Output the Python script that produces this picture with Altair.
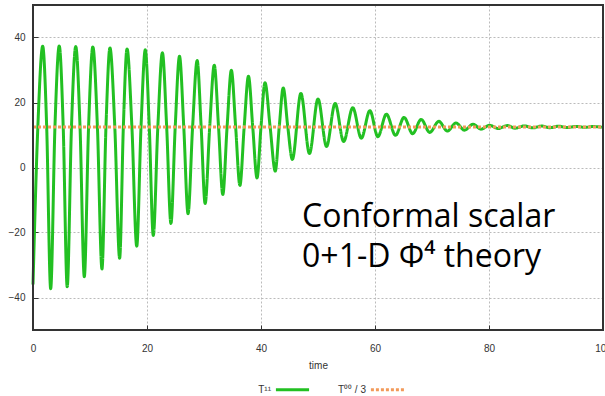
import altair as alt
import pandas as pd

# ---- data ----
peak_t = [1.7, 4.6, 7.5, 10.5, 13.5, 16.5, 19.7, 22.7, 25.7, 28.8, 31.8, 34.8, 37.8,
          40.7, 43.9, 47.0, 50.0, 53.0, 56.1, 59.1, 62.0, 65.1, 68.1, 71.2, 74.2,
          77.2, 80.1, 83.2, 86.2, 89.2, 92.2, 95.3, 98.3]
peak_v = [37.3, 37.4, 37.2, 37.1, 36.8, 36.5, 36.2, 35.3, 34.2, 32.9, 31.5, 29.9, 28.1,
          26.1, 24.5, 22.8, 21.1, 19.7, 18.4, 17.5, 16.4, 15.4, 14.8, 14.2, 13.7,
          13.3, 13.0, 12.9, 12.8, 12.75, 12.7, 12.65, 12.6]
trough_t = [0.0, 3.1, 6.0, 9.0, 12.1, 15.2, 18.2, 21.1, 24.2, 27.2, 30.2, 33.3, 36.3,
            39.3, 42.5, 45.5, 48.5, 51.5, 54.5, 57.6, 60.5, 63.6, 66.6, 69.6, 72.7,
            75.7, 78.6, 81.6, 84.6, 87.7, 90.7, 93.7, 96.8, 99.8]
trough_v = [-36.0, -37.3, -36.7, -33.6, -31.2, -27.9, -24.2, -20.9, -17.2, -14.2, -11.1,
            -8.3, -5.5, -3.2, -1.1, 2.5, 4.3, 6.5, 8.0, 9.0, 9.5, 9.9, 10.4, 10.8, 11.2,
            11.5, 11.8, 12.0, 12.1, 12.2, 12.25, 12.3, 12.35, 12.4]
# times where the green curve crosses the orange level
cross_t = [0.85, 2.4, 3.85, 5.3, 6.75, 8.25, 9.75, 11.3, 12.8, 14.35, 15.85, 17.35,
           18.95, 20.4, 21.9, 23.45, 24.95, 26.45, 28.0, 29.5, 31.0, 32.55, 34.05,
           35.55, 37.05, 38.55, 40.0, 41.6, 43.2, 44.7]
cross_v = [12.5] * len(cross_t)
level_t = [0, 100]
level_v = [12.5, 12.5]
x_ticks = [0, 20, 40, 60, 80, 100]
y_ticks = [-40, -20, 0, 20, 40]
x_range = [0, 100]
y_range = [-50, 50]
series = ["T¹¹", "T⁰⁰ / 3"]
note = ["Conformal scalar", "0+1-D Φ⁴ theory"]
note_x = 47.2
note_y = -18.2

GREEN = "#22c022"
ORANGE = "#f29a5a"
FRAME = "#333333"

pts = sorted(zip(peak_t + trough_t + cross_t, peak_v + trough_v + cross_v))
green_df = pd.DataFrame({"t": [p[0] for p in pts], "v": [p[1] for p in pts], "s": series[0]})
orange_df = pd.DataFrame({"t": level_t, "v": level_v, "s": series[1]})

legend = alt.Legend(
    title=None, orient="none", legendX=241, legendY=366, direction="horizontal",
    symbolType="stroke", symbolSize=1100, symbolStrokeWidth=3,
    labelFont="Liberation Sans", labelFontSize=10, labelColor="#333",
    labelAlign="right", labelOffset={"expr": "-40"}, columnPadding=21,
)

grid_kw = dict(grid=True, gridColor="#bbbbbb", gridDash=[2, 2], gridWidth=1,
               domain=False, ticks=True, tickSize={"expr": "-5"}, tickColor=FRAME,
               tickWidth=1, labelFont="Liberation Sans", labelFontSize=10,
               labelColor="#333", labelFlush=False)

x_enc = alt.X("t:Q", scale=alt.Scale(domain=x_range, nice=False, zero=False),
              axis=alt.Axis(values=x_ticks, title="time", labelPadding=18, titlePadding=7,
                            titleFont="Liberation Sans", titleFontSize=10,
                            titleFontWeight="normal", titleColor="#333", **grid_kw))
y_enc = alt.Y("v:Q", scale=alt.Scale(domain=y_range, nice=False),
              axis=alt.Axis(values=y_ticks, title=None, labelPadding=13, **grid_kw))
color = alt.Color("s:N", scale=alt.Scale(domain=series, range=[GREEN, ORANGE]), legend=legend)
dash = alt.StrokeDash("s:N", scale=alt.Scale(domain=series, range=[[1, 0], [3, 2]]), legend=legend)

green = alt.Chart(green_df).mark_line(interpolate="monotone", strokeWidth=3).encode(
    x=x_enc, y=y_enc, color=color, strokeDash=dash)
orange = alt.Chart(orange_df).mark_line(strokeWidth=3).encode(
    x="t:Q", y="v:Q", color=color, strokeDash=dash)
frame = alt.Chart().mark_rect(fillOpacity=0, stroke=FRAME, strokeWidth=2).encode(
    x=alt.X(datum=x_range[0]), x2=alt.X2(datum=x_range[1]),
    y=alt.Y(datum=y_range[0]), y2=alt.Y2(datum=y_range[1]))
text = alt.Chart().mark_text(
    text=note, font="Open Sans", fontSize=32, align="left", baseline="alphabetic",
    lineHeight=40, color="black").encode(x=alt.X(datum=note_x), y=alt.Y(datum=note_y))

chart = alt.layer(green, orange, frame, text).properties(
    width=570, height=325,
    background="white",
    autosize=alt.AutoSizeParams(type="none"),
    padding={"left": 33, "top": 5, "right": 2, "bottom": 66},
)

chart.save("out.html", embed_options={"renderer": "svg", "actions": False})
